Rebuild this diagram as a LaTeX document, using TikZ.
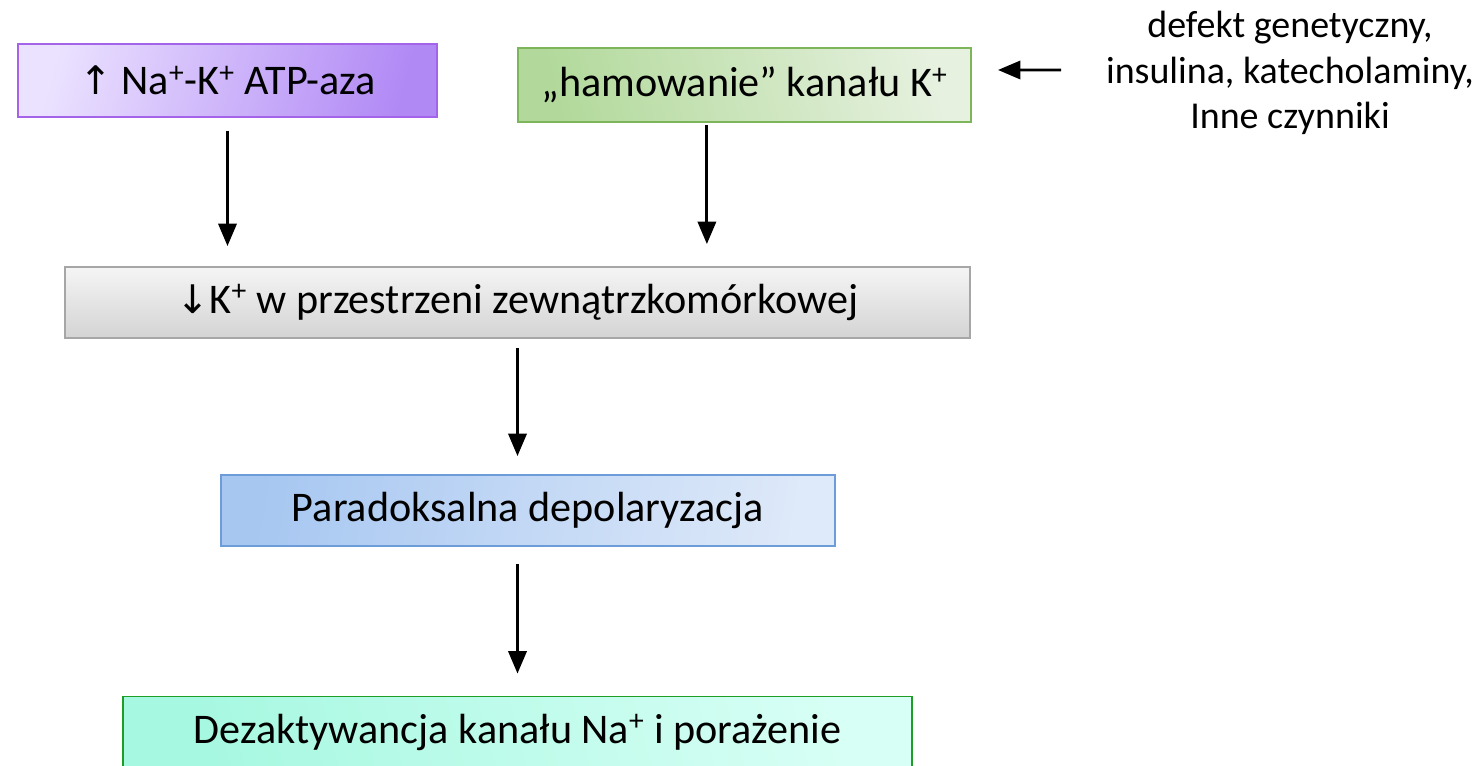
\documentclass[tikz,border=0pt]{standalone}
\usepackage{fontspec}
\setmainfont{Carlito}
\newfontfamily\strzalki{DejaVu Sans}
\usetikzlibrary{arrows.meta,calc}
\definecolor{fiolet}{HTML}{A464EA}
\definecolor{fioletA}{HTML}{EBE2FF}
\definecolor{fioletB}{HTML}{B189F5}
\definecolor{zielen}{HTML}{7DB55A}
\definecolor{zielenA}{HTML}{B2D99B}
\definecolor{zielenB}{HTML}{E6F1DF}
\definecolor{szary}{HTML}{A6A6A6}
\definecolor{niebieski}{HTML}{6D9DD8}
\definecolor{niebieskiA}{HTML}{A7C7F1}
\definecolor{niebieskiB}{HTML}{DEE9F9}
\definecolor{morski}{HTML}{1E9E24}
\definecolor{morskiA}{HTML}{A6F8E0}
\definecolor{morskiB}{HTML}{D8FFF5}
\tikzset{
  box/.style = {rectangle, align=center, inner sep=0pt, line width=1.3pt, font=\fontsize{30}{34}\selectfont},
  box_p/.style = {box, draw=fiolet, left color=fioletA, right color=fioletB, shading angle=75},
  box_g/.style = {box, draw=zielen, left color=zielenA, right color=zielenB, shading angle=105},
  box_s/.style = {box, draw=szary, top color=black!4, bottom color=black!17},
  box_n/.style = {box, draw=niebieski, left color=niebieskiA, right color=niebieskiB, shading angle=80},
  box_m/.style = {box, draw=morski, left color=morskiA, right color=morskiB, shading angle=105},
  txt/.style = {align=center, font=\fontsize{27}{32.5}\selectfont},
  strz/.style = {-{Triangle[length=16pt,width=13pt]}, line width=2pt}
}
\begin{document}
\begin{tikzpicture}[x=0.025cm, y=-0.025cm]
	\useasboundingbox (0,0) rectangle (1475,766);
	\node [box_p, minimum width=10.475cm, minimum height=1.825cm] (atpaza) at (227.5,80.5) {{\strzalki\fontsize{28}{34}\selectfont ↑} Na\textsuperscript{+}-K\textsuperscript{+} ATP-aza};
	\node [box_g, minimum width=11.325cm, minimum height=1.85cm] (hamowanie) at (744.5,85) {„hamowanie” kanału K\textsuperscript{+}};
	\node [txt] (czynniki) at (1290,73) {defekt genetyczny,\\insulina, katecholaminy,\\Inne czynniki};
	\node [box_s, minimum width=22.625cm, minimum height=1.775cm] (spadek) at (517.5,302.5) {{\strzalki\fontsize{28}{34}\selectfont ↓}K\textsuperscript{+} w przestrzeni zewnątrzkomórkowej};
	\node [box_n, minimum width=15.35cm, minimum height=1.775cm] (depol) at (528,510.5) {Paradoksalna depolaryzacja};
	\node [box_m, minimum width=19.725cm, minimum height=1.775cm] (porazenie) at (517.5,732) {Dezaktywancja kanału Na\textsuperscript{+} i porażenie};

	\draw [strz, shorten <=0.32cm, shorten >=0.5cm] (atpaza.south) -- (atpaza.south |- spadek.north);
	\draw [strz, shorten <=0.05cm, shorten >=0.55cm] ([xshift=-0.94cm]hamowanie.south) -- ([xshift=-0.94cm]hamowanie.south |- spadek.north);
	\draw [strz, shorten <=0.22cm, shorten >=0.45cm] (spadek.south) -- (spadek.south |- depol.north);
	\draw [strz, shorten <=0.42cm, shorten >=0.55cm] (porazenie.north |- depol.south) -- (porazenie.north);
	\draw [strz, shorten <=1cm, shorten >=0.65cm] (czynniki.west |- hamowanie.east) ++(0,-15) -- ([yshift=0.375cm]hamowanie.east);
\end{tikzpicture}
\end{document}
